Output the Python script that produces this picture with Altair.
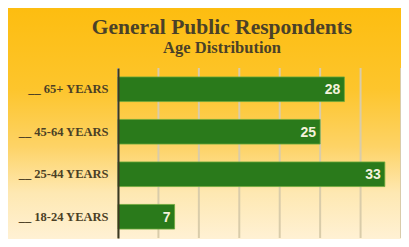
import altair as alt
import pandas as pd

categories = ["__ 65+ YEARS", "__ 45-64 YEARS", "__ 25-44 YEARS", "__ 18-24 YEARS"]
values = [28, 25, 33, 7]
grid_ticks = [0, 5, 10, 15, 20, 25, 30, 35]
title_text = "General Public Respondents"
subtitle_text = "Age Distribution"

df = pd.DataFrame({"age": categories, "pct": values})
grid_df = pd.DataFrame({"t": grid_ticks})
one = pd.DataFrame({"a": [0]})

W, H = 283, 170
xscale = alt.Scale(domain=[0, 35], nice=False, zero=True)
yscale = alt.Scale(paddingInner=0.42, paddingOuter=0.21)

bg = alt.Chart(one).mark_rect(
    color=alt.Gradient(
        gradient="linear", x1=0, x2=0, y1=0, y2=1,
        stops=[
            alt.GradientStop(offset=0, color="#FDBD10"),
            alt.GradientStop(offset=0.35, color="#FDC52C"),
            alt.GradientStop(offset=0.6, color="#FDD366"),
            alt.GradientStop(offset=0.8, color="#FEE8B2"),
            alt.GradientStop(offset=1, color="#FFF1D4"),
        ],
    )
).encode(x=alt.value(-110), x2=alt.value(W), y=alt.value(-60), y2=alt.value(H + 1))

grid = alt.Chart(grid_df).mark_rule(color="#D9CCAA", strokeWidth=2).encode(
    x=alt.X("t:Q", scale=xscale, axis=None),
    y=alt.value(0), y2=alt.value(H),
)

bars = alt.Chart(df).mark_bar(color="#2A7A1B", stroke="#6FA83A", strokeWidth=0.8).encode(
    x=alt.X("pct:Q", scale=xscale, axis=None),
    y=alt.Y("age:N", sort=categories, scale=yscale, title=None,
            axis=alt.Axis(zindex=1, ticks=False, labelPadding=10,
                          labelFont="Liberation Serif", labelFontWeight="bold",
                          labelFontSize=12.5, labelColor="#4B3F25",
                          domainColor="#3B3820", domainWidth=2, grid=False)),
)

labels = alt.Chart(df).mark_text(
    align="right", baseline="middle", dx=-4, dy=1,
    font="Liberation Sans", fontWeight="bold", fontSize=14, color="#F4F2DC",
).encode(
    x=alt.X("pct:Q", scale=xscale, axis=None),
    y=alt.Y("age:N", sort=categories, scale=yscale),
    text="pct:Q",
)

title = alt.Chart(pd.DataFrame({"t": [title_text]})).mark_text(
    font="Liberation Serif", fontWeight="bold", fontSize=21.5, color="#4A4128",
    align="center", baseline="alphabetic",
).encode(text="t:N", x=alt.value(104), y=alt.value(-34))

subtitle = alt.Chart(pd.DataFrame({"t": [subtitle_text]})).mark_text(
    font="Liberation Serif", fontWeight="bold", fontSize=16.5, color="#4A4128",
    align="center", baseline="alphabetic",
).encode(text="t:N", x=alt.value(104), y=alt.value(-15))

chart = alt.layer(bg, grid, bars, labels, title, subtitle).properties(
    width=W, height=H,
    padding={"left": 110, "top": 60, "right": 0, "bottom": 1},
    autosize="none",
).configure_view(stroke=None)

chart.save("out.html", embed_options={"renderer": "svg", "actions": False})
